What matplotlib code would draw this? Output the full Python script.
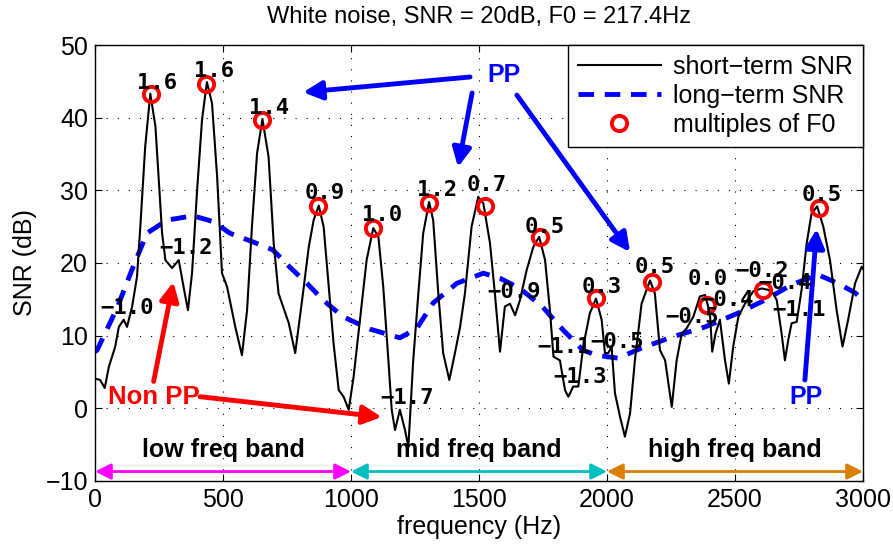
import numpy as np
import matplotlib
matplotlib.use('Agg')
import matplotlib.pyplot as plt

plt.rcParams['font.family'] = ['Liberation Sans', 'DejaVu Sans']

# short-term SNR (traced)
st_freq = [1, 20, 38, 54, 79, 93, 112, 125, 145, 164, 177, 196, 216, 236, 249, 262,
           275, 301, 327, 346, 363, 379, 398, 418, 437, 457, 477, 496, 516, 548, 574,
           594, 613, 633, 654, 678, 698, 717, 757, 782, 809, 835, 854, 874, 893, 913,
           932, 952, 971, 991, 1010, 1035, 1061, 1087, 1107, 1126, 1146, 1159, 1172,
           1191, 1211, 1224, 1243, 1263, 1282, 1305, 1321, 1341, 1360, 1384, 1406,
           1426, 1445, 1471, 1497, 1517, 1543, 1562, 1582, 1601, 1621, 1641, 1660,
           1686, 1712, 1735, 1758, 1777, 1791, 1816, 1836, 1849, 1868, 1888, 1907,
           1933, 1957, 1979, 1992, 2005, 2018, 2031, 2051, 2070, 2090, 2109, 2135,
           2168, 2187, 2207, 2227, 2253, 2272, 2292, 2311, 2337, 2363, 2383, 2402,
           2411, 2424, 2441, 2461, 2476, 2493, 2513, 2539, 2571, 2604, 2630, 2649,
           2663, 2682, 2695, 2708, 2721, 2741, 2760, 2780, 2799, 2821, 2845, 2871,
           2897, 2920, 2942, 2969, 2995, 3000]
st_snr = [4.1, 3.9, 2.8, 5.7, 8.5, 11.2, 12.2, 11.2, 14.0, 18.1, 25.0, 36.0, 43.3, 38.8,
          31.4, 24.1, 20.4, 19.3, 20.4, 16.7, 13.5, 18.6, 29.6, 39.7, 44.9, 42.0, 31.9,
          18.6, 16.7, 11.2, 7.3, 13.5, 25.0, 35.1, 39.8, 34.6, 22.7, 15.8, 11.7, 7.6,
          14.9, 22.2, 25.9, 27.9, 25.0, 16.7, 8.9, 2.5, 1.6, -0.2, 4.3, 12.2, 20.4,
          24.8, 23.6, 16.7, 6.6, -0.2, -3.0, -0.2, -3.0, -5.3, 6.6, 15.8, 24.1, 28.4,
          25.9, 15.8, 7.6, 3.9, 7.6, 11.2, 15.8, 25.0, 29.1, 28.2, 22.7, 15.8, 7.8,
          14.0, 14.4, 12.8, 14.9, 19.0, 22.2, 23.6, 20.4, 13.5, 7.1, 6.6, 2.5, 1.6,
          3.0, 3.0, 8.5, 13.1, 15.1, 12.2, 7.6, 7.6, 8.5, 2.1, -1.2, -3.9, -0.7, 6.6,
          14.4, 17.6, 15.8, 8.0, 6.6, 0.2, 6.6, 10.3, 11.0, 12.6, 15.4, 15.6, 13.1,
          7.8, 10.3, 12.2, 6.6, 3.4, 8.5, 12.6, 14.4, 16.1, 16.5, 16.3, 15.8, 14.9,
          10.3, 6.6, 9.4, 11.7, 11.9, 16.3, 22.7, 26.8, 27.8, 25.0, 20.4, 13.5, 8.5,
          12.2, 17.2, 19.5, 19.2]

# long-term SNR (traced)
lt_freq = [0, 8, 86, 148, 203, 281, 383, 461, 527, 617, 695, 762, 828, 891, 969, 1074,
           1191, 1257, 1321, 1413, 1517, 1582, 1660, 1750, 1828, 1906, 1960, 2044,
           2135, 2253, 2383, 2512, 2617, 2721, 2824, 2902, 2969, 3000]
lt_snr = [7.8, 8.0, 13.8, 19.4, 24.1, 25.9, 26.5, 25.7, 24.1, 22.9, 21.8, 19.4, 17.2,
          14.9, 12.6, 10.9, 9.7, 11.0, 14.5, 17.2, 18.6, 17.9, 16.5, 13.9, 10.8, 8.0,
          7.3, 6.9, 8.3, 9.8, 11.2, 13.1, 14.9, 17.0, 18.4, 17.2, 15.9, 14.9]

F0 = 217.4
harm_snr = [43.3, 44.7, 39.7, 27.9, 24.8, 28.3, 27.9, 23.6, 15.2, 17.4, 14.2, 16.3, 27.6]

# numeric annotations: text, freq, snr
lab_text = ['1.6', '1.6', '1.4', '0.9', '\u22121.2', '\u22121.0', '1.0', '1.2', '0.7',
            '0.5', '\u22120.9', '\u22121.7', '0.3', '\u22121.1', '\u22121.3', '\u22120.5',
            '0.5', '0.0', '\u22120.5', '\u22120.4', '\u22120.2', '\u22120.4', '\u22121.1',
            '0.5']
lab_f = [164, 387, 601, 820, 250, 20, 1043, 1258, 1453, 1680, 1531, 1113, 1902, 1726,
         1789, 1934, 2109, 2316, 2226, 2363, 2500, 2590, 2645, 2762]
lab_y = [44.8, 46.4, 41.3, 29.6, 22.1, 13.8, 26.6, 30.0, 30.7, 24.9, 16.0, 1.4, 16.7,
         8.4, 4.3, 9.1, 19.5, 17.8, 12.6, 14.9, 18.9, 17.2, 13.5, 29.3]

bands = ['low freq band', 'mid freq band', 'high freq band']
band_edges = [0, 1000, 2000, 3000]
band_colors = ['#ff00ff', '#00bfbf', '#d98000']

fig = plt.figure(figsize=(8.93, 5.47), dpi=100)
ax = fig.add_axes([0.1064, 0.1207, 0.86, 0.797])

ax.plot(st_freq, st_snr, color='black', lw=1.5, label='short\u2212term SNR', zorder=3)
ax.plot(lt_freq, lt_snr, color='blue', lw=3.5, dashes=(3.2, 2.2),
        label='long\u2212term SNR', zorder=2)
harm_f = F0 * np.arange(1, len(harm_snr) + 1)
ax.plot(harm_f, harm_snr, 'o', ms=11, mfc='none', mec='red', mew=2.8,
        label='multiples of F0', zorder=4)

for t, x, y in zip(lab_text, lab_f, lab_y):
    ax.text(x, y, t, family='DejaVu Sans Mono', fontsize=16, fontweight='bold',
            ha='left', va='center', zorder=5)

# PP / Non PP arrows
arrow_blue = dict(arrowstyle='-|>', lw=3.5, color='blue', mutation_scale=28,
                  shrinkA=0, shrinkB=0)
arrow_red = dict(arrowstyle='-|>', lw=3.5, color='red', mutation_scale=28,
                 shrinkA=0, shrinkB=0)
ax.text(1598, 45.9, 'PP', color='blue', fontsize=18, fontweight='bold',
        ha='center', va='center')
ax.annotate('', xy=(813, 43.5), xytext=(1465, 45.6), arrowprops=arrow_blue)
ax.annotate('', xy=(1418, 33.2), xytext=(1473, 43.4), arrowprops=arrow_blue)
ax.annotate('', xy=(2090, 21.5), xytext=(1648, 43.1), arrowprops=arrow_blue)
ax.text(2777, 1.6, 'PP', color='blue', fontsize=18, fontweight='bold',
        ha='center', va='center')
ax.annotate('', xy=(2819, 24.7), xytext=(2773, 3.9), arrowprops=arrow_blue)

ax.text(230, 1.6, 'Non PP', color='red', fontsize=18.5, fontweight='bold',
        ha='center', va='center')
ax.annotate('', xy=(306, 17.4), xytext=(229, 3.7), arrowprops=arrow_red)
ax.annotate('', xy=(1120, -1.2), xytext=(410, 1.6), arrowprops=arrow_red)

# frequency bands
for i, name in enumerate(bands):
    x0, x1 = band_edges[i], band_edges[i + 1]
    ax.annotate('', xy=(x1, -8.7), xytext=(x0, -8.7),
                arrowprops=dict(arrowstyle='<|-|>', lw=2, color=band_colors[i],
                                mutation_scale=24, shrinkA=0, shrinkB=0))
    ax.text((x0 + x1) / 2, -5.8, name, fontsize=18, fontweight='bold',
            ha='center', va='center')

ax.set_xlim(0, 3000)
ax.set_ylim(-10, 50)
ax.set_xticks(range(0, 3001, 500))
ax.set_yticks(range(-10, 51, 10))
ax.set_yticklabels(['\u221210', '0', '10', '20', '30', '40', '50'])
ax.tick_params(direction='in', top=True, right=True, labelsize=18, length=5, pad=5)
ax.grid(True, color='black', linestyle=(0, (1, 9)), lw=0.8)
for s in ax.spines.values():
    s.set_linewidth(1)

ax.set_xlabel('frequency (Hz)', fontsize=18, labelpad=2)
ax.set_ylabel('SNR (dB)', fontsize=18, labelpad=6)
ax.set_title('White noise, SNR = 20dB, F0 = 217.4Hz', fontsize=17, pad=16)

leg = ax.legend(loc='upper right', bbox_to_anchor=(1, 1), borderaxespad=0,
                fontsize=18, handlelength=3.3, labelspacing=0.2, fancybox=False,
                framealpha=1, edgecolor='black', borderpad=0.4, handletextpad=0.5)
leg.get_frame().set_linewidth(1)

fig.savefig('out.png', dpi=100)
